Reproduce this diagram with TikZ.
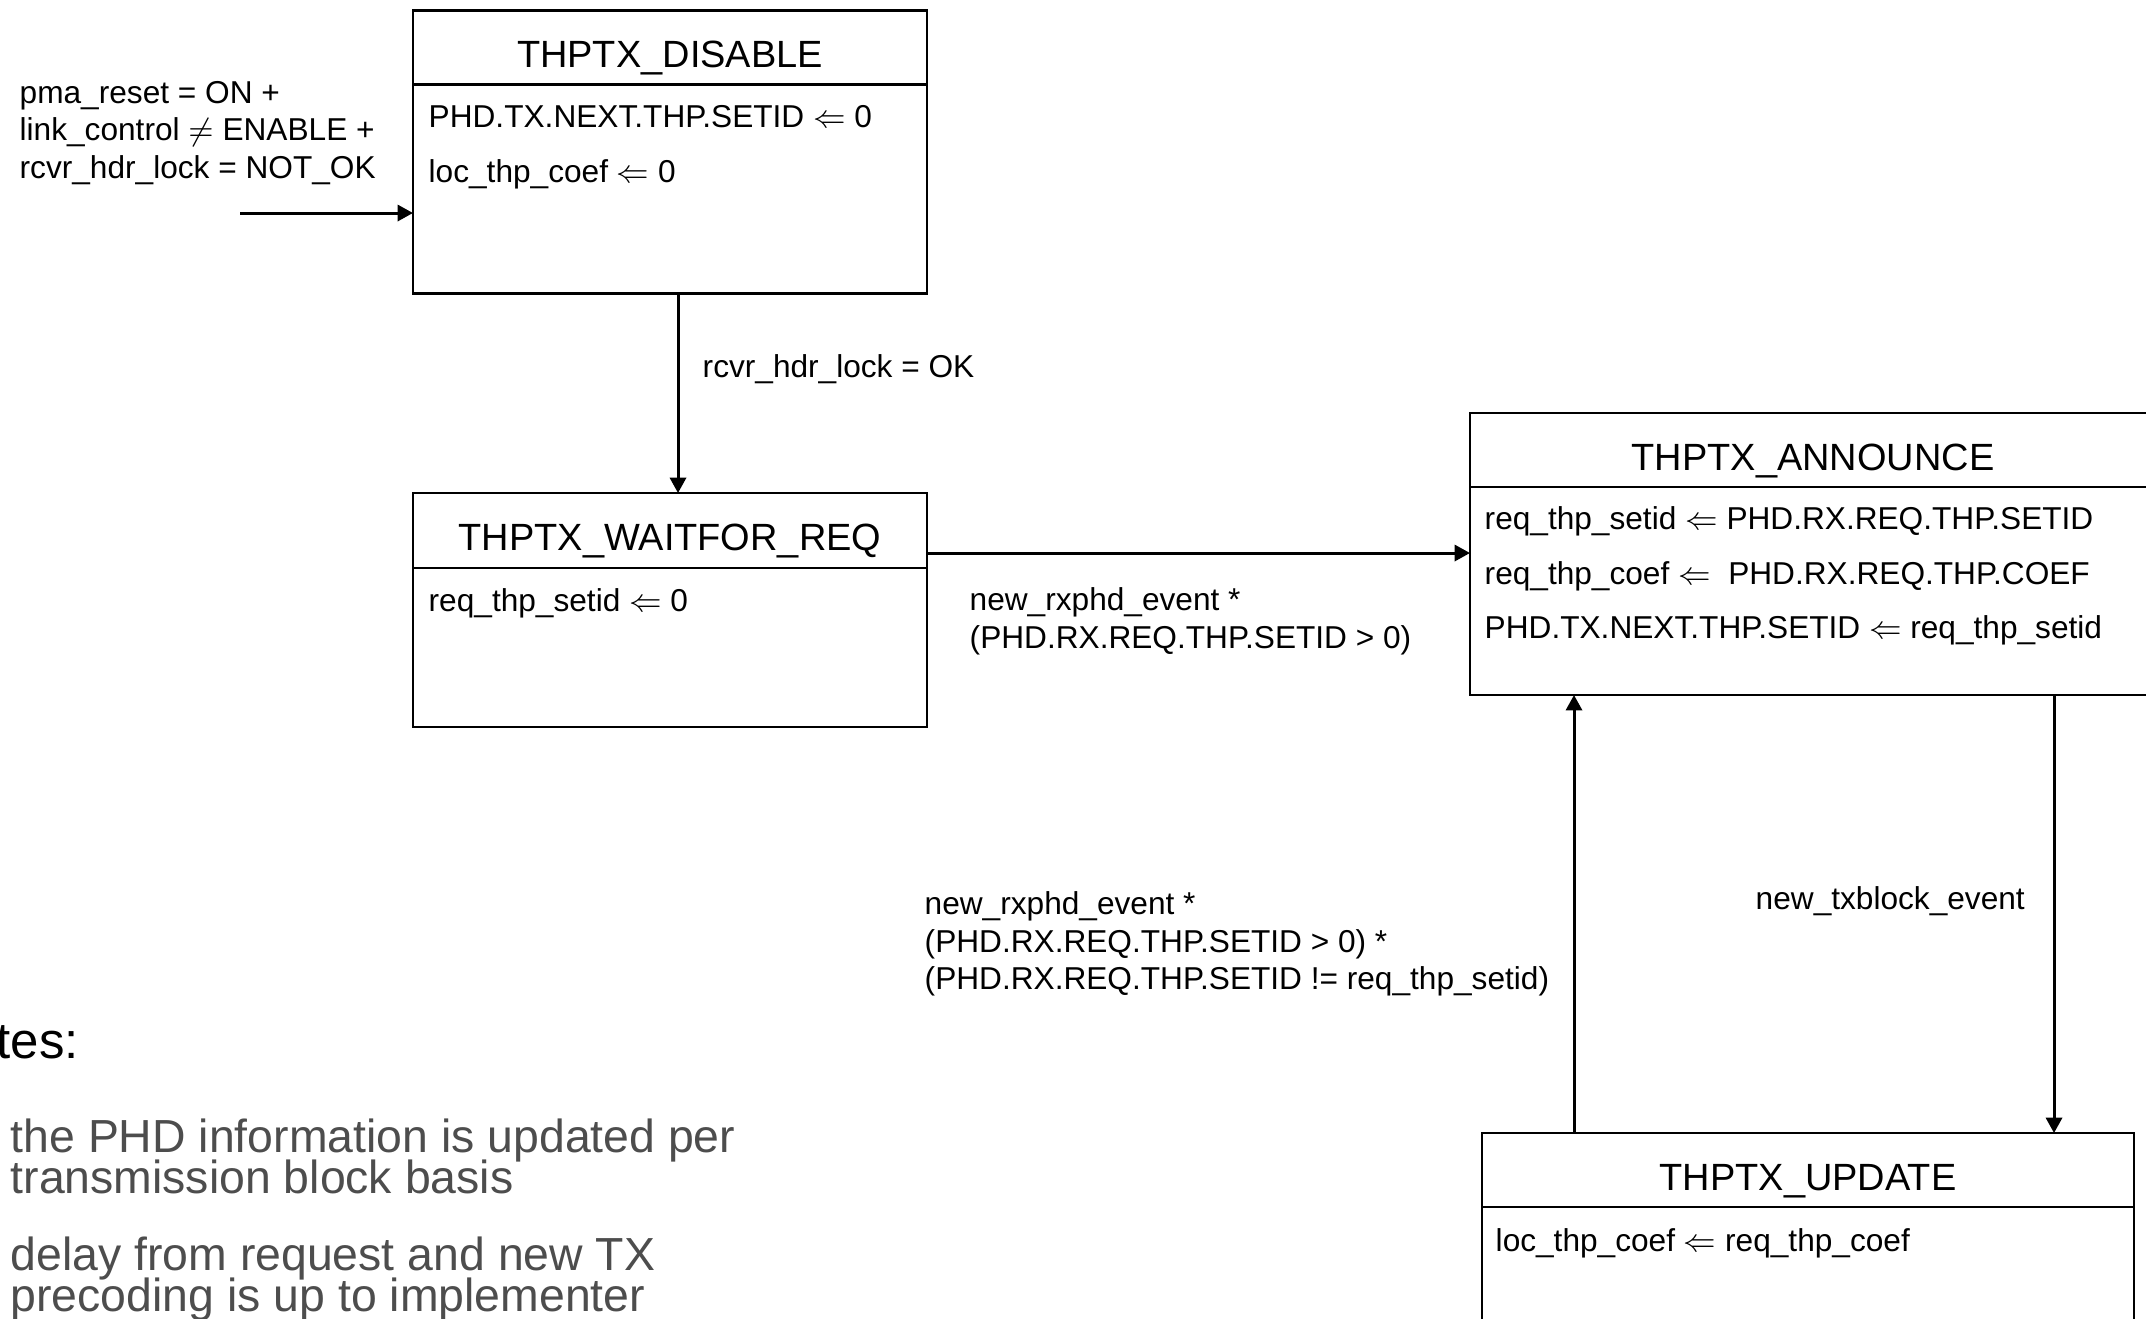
\documentclass[tikz,border=0pt]{standalone}
\usepackage{fontspec}
\setmainfont{Liberation Sans}
\usetikzlibrary{arrows.meta}

\definecolor{notegray}{HTML}{4D4D4D}

\tikzset{
  statehead/.style={draw, line width=0.8pt, inner sep=0pt, outer sep=0pt, minimum height=0.74cm,
    text height=11.5pt, text depth=0pt, font=\fontsize{10.8}{13}\selectfont},
  statebody/.style={draw, line width=0.8pt, inner sep=0pt, outer sep=0pt},
  bodytext/.style={anchor=west, align=left, inner sep=0pt, font=\fontsize{9}{15.5}\selectfont},
  cond/.style={anchor=west, align=left, inner sep=0pt, font=\fontsize{9}{10.7}\selectfont},
  note/.style={anchor=base west, inner sep=0pt, text=notegray, font=\fontsize{13.2}{12}\selectfont},
  trans/.style={line width=0.85pt, -{Triangle[length=4.4pt,width=4.6pt]}}
}

\begin{document}
\begin{tikzpicture}

\useasboundingbox (0,0) rectangle (21.46,-13.18);

% states
\node[statehead, minimum width=5.14cm] (disablehead) at (6.70,-0.475) {THPTX\_DISABLE};
\node[statebody, minimum width=5.14cm, minimum height=2.09cm, anchor=north] (disablebody) at (disablehead.south) {};
\node[bodytext] (disabletxt) at (4.28,-1.47) {PHD.TX.NEXT.THP.SETID $\Leftarrow$ 0\\loc\_thp\_coef $\Leftarrow$ 0};

\node[statehead, minimum width=5.14cm, minimum height=0.75cm] (waitforhead) at (6.70,-5.305) {THPTX\_WAITFOR\_REQ};
\node[statebody, minimum width=5.14cm, minimum height=1.59cm, anchor=north] (waitforbody) at (waitforhead.south) {};
\node[bodytext] (waitfortxt) at (4.28,-6.03) {req\_thp\_setid $\Leftarrow$ 0};

\node[statehead, minimum width=6.86cm] (announcehead) at (18.13,-4.50) {THPTX\_ANNOUNCE};
\node[statebody, minimum width=6.86cm, minimum height=2.08cm, anchor=north] (announcebody) at (announcehead.south) {};
\node[bodytext] (announcetxt) at (14.84,-5.76) {req\_thp\_setid $\Leftarrow$ PHD.RX.REQ.THP.SETID\\req\_thp\_coef $\Leftarrow$\ \ PHD.RX.REQ.THP.COEF\\PHD.TX.NEXT.THP.SETID $\Leftarrow$ req\_thp\_setid};

\node[statehead, minimum width=6.52cm] (updatehead) at (18.08,-11.70) {THPTX\_UPDATE};
\node[statebody, minimum width=6.52cm, minimum height=1.60cm, anchor=north] (updatebody) at (updatehead.south) {};
\node[bodytext] (updatetxt) at (14.95,-12.43) {loc\_thp\_coef $\Leftarrow$ req\_thp\_coef};

% transitions
\coordinate (initstart) at (2.40,-2.13);
\coordinate (dwx) at (6.78,0);
\coordinate (w2a) at (0,-5.53);
\coordinate (upx) at (15.74,0);
\coordinate (dnx) at (20.54,0);

\draw[trans] (initstart) -- (initstart -| disablebody.west);
\draw[trans] (disablebody.south -| dwx) -- (waitforhead.north -| dwx);
\draw[trans] (waitforhead.east |- w2a) -- (announcebody.west |- w2a);
\draw[trans] (updatehead.north -| upx) -- (announcebody.south -| upx);
\draw[trans] (announcebody.south -| dnx) -- (updatehead.north -| dnx);

\node[cond] (initcond) at (0.19,-1.33) {pma\_reset = ON +\\link\_control $\neq$ ENABLE +\\rcvr\_hdr\_lock = NOT\_OK};
\node[cond] (lockcond) at (7.02,-3.69) {rcvr\_hdr\_lock = OK};
\node[cond] (reqcond) at (9.69,-6.21) {new\_rxphd\_event *\\(PHD.RX.REQ.THP.SETID > 0)};
\node[cond] (newreqcond) at (9.24,-9.44) {new\_rxphd\_event *\\(PHD.RX.REQ.THP.SETID > 0) *\\(PHD.RX.REQ.THP.SETID != req\_thp\_setid)};
\node[cond] (blockcond) at (17.55,-9.01) {new\_txblock\_event};

% notes
\node[anchor=base west, inner sep=0pt, font=\fontsize{14.5}{16}\selectfont] (notes) at (-0.69,-10.58) {Notes:};
\foreach \ny/\ntxt [count=\i] in {11.52/the PHD information is updated per, 11.93/transmission block basis,
  12.70/delay from request and new TX, 13.11/precoding is up to implementer}
  \node[note] (note\i) at (0.10,-\ny) {\ntxt};

\end{tikzpicture}
\end{document}
